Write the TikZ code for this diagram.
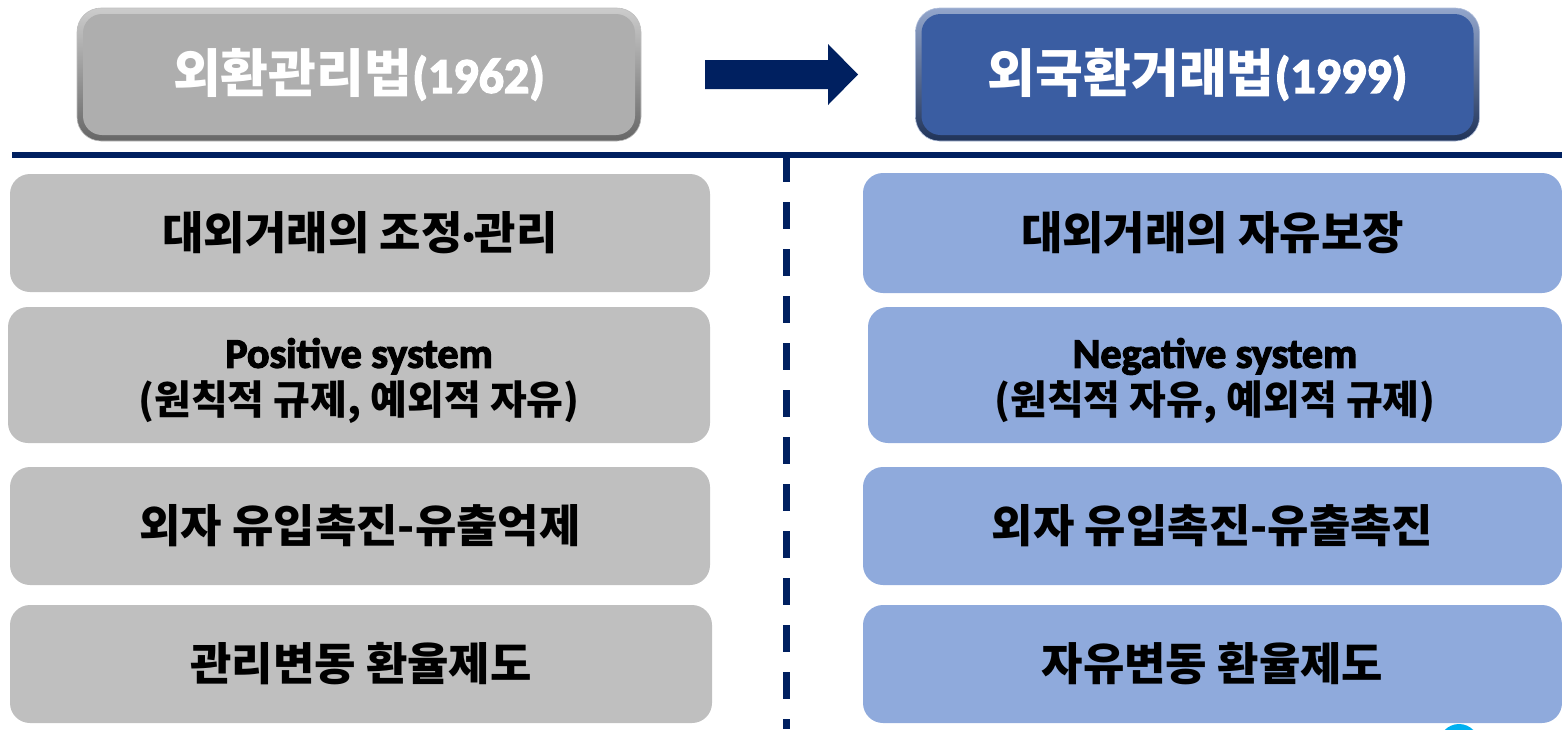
\documentclass[tikz,border=0pt]{standalone}
\usepackage{fontspec}
\newfontfamily\kr{Noto Sans CJK KR}
\newfontfamily\krh{Noto Sans CJK KR}
\newfontfamily\calfont{Carlito}[FakeBold=3]
\definecolor{navy}{HTML}{002060}
\definecolor{boxgray}{HTML}{BFBFBF}
\definecolor{boxblue}{HTML}{8FAADC}
\definecolor{hgrayin}{HTML}{AEAEAE}
\definecolor{hbluein}{HTML}{3A5DA2}
\definecolor{cyanc}{HTML}{00B0F0}
\begin{document}
\begin{tikzpicture}[x=1pt,y=-1pt,
  lbox/.style={fill=boxgray, rounded corners=20pt, inner sep=0pt, align=center},
  rbox/.style={fill=boxblue, rounded corners=20pt, inner sep=0pt, align=center},
  bigtxt/.style={font=\kr\bfseries\fontsize{45}{50}\selectfont},
  twotxt/.style={font=\kr\bfseries\fontsize{40}{47}\selectfont, align=center, inner sep=0pt},
  hdrout/.style={rounded corners=24pt, minimum width=564pt, minimum height=133pt, inner sep=0pt},
  hdrin/.style={rounded corners=19pt, minimum width=552pt, minimum height=121pt, inner sep=0pt, text=white,
    font=\krh\bfseries\fontsize{52}{56}\selectfont}
  ]
\useasboundingbox (0,0) rectangle (1562,729);
\clip (0,0) rectangle (1562,729);
% headers
\node[hdrout, top color=gray!40, bottom color=black!60, draw=black!25, line width=0.6pt] (h1) at (359,74.5) {};
\node[hdrin, fill=hgrayin] (h1i) at (h1.center) {외환관리법{\calfont\fontsize{50}{54}\selectfont(1962)}};
\node[hdrout, top color=hbluein!55!white, bottom color=hbluein!55!black, draw=hbluein!40, line width=0.6pt] (h2) at (1197.5,74.5) {};
\node[hdrin, fill=hbluein] (h2i) at (h2.center) {외국환거래법{\calfont\fontsize{50}{54}\selectfont(1999)}};
% arrow
\coordinate (a0) at (705,74.5);
\fill[navy] (a0) ++(0,-14.5) -- ++(123,0) -- ++(0,-16) -- ++(30,30.5) -- ++(-30,30.5) -- ++(0,-16) -- ++(-123,0) -- cycle;
% separators
\coordinate (hl0) at (12,155);
\coordinate (hl1) at (1562,155);
\draw[navy, line width=6pt] (hl0) -- (hl1);
\coordinate (vl0) at (786.5,155);
\coordinate (vl1) at (786.5,729);
\draw[navy, line width=6.5pt, dash pattern=on 27pt off 20pt, dash phase=0pt] (vl0) -- (vl1);
% left boxes
\node[lbox, minimum width=700pt, minimum height=118pt, bigtxt] (l1) at (360,233) {대외거래의 조정{\calfont ·}관리};
\node[lbox, minimum width=702pt, minimum height=136pt] (l2) at (359,375) {};
\node[twotxt] (l2t) at ([yshift=-6pt]l2.center) {{\calfont\fontsize{42}{47}\selectfont Positive system}\\(원칙적 규제, 예외적 자유)};
\node[lbox, minimum width=700pt, minimum height=118pt, bigtxt] (l3) at (360,526) {외자 유입촉진-유출억제};
\node[lbox, minimum width=702pt, minimum height=118pt, bigtxt] (l4) at (361,664) {관리변동 환율제도};
% right boxes
\node[rbox, minimum width=699pt, minimum height=120pt, bigtxt] (r1) at (1212.5,233) {대외거래의 자유보장};
\node[rbox, minimum width=694pt, minimum height=136pt] (r2) at (1215,375) {};
\node[twotxt] (r2t) at ([yshift=-6pt]r2.center) {{\calfont\fontsize{42}{47}\selectfont Negative system}\\(원칙적 자유, 예외적 규제)};
\node[rbox, minimum width=699pt, minimum height=118pt, bigtxt] (r3) at (1212.5,526) {외자 유입촉진-유출촉진};
\node[rbox, minimum width=699pt, minimum height=118pt, bigtxt] (r4) at (1212.5,664) {자유변동 환율제도};
% partial circle
\node[circle, fill=cyanc, minimum size=40pt, inner sep=0pt] (c1) at (1459,744) {};
\end{tikzpicture}
\end{document}
